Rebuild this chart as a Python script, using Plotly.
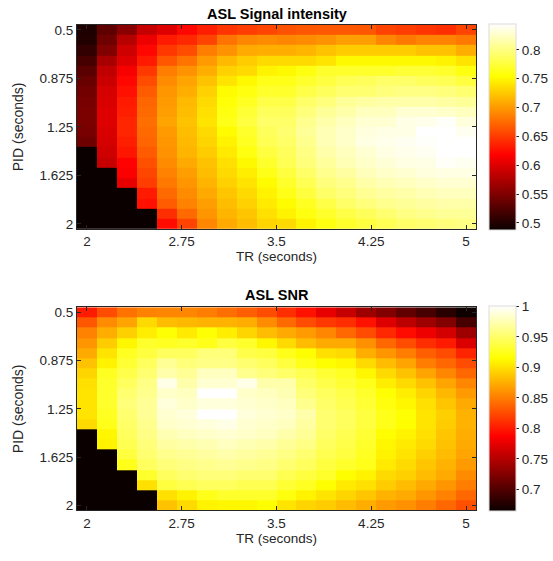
import plotly.graph_objects as go

# ---- data ----
tr_seconds = [2.000, 2.158, 2.316, 2.474, 2.632, 2.789, 2.947, 3.105, 3.263, 3.421,
              3.579, 3.737, 3.895, 4.053, 4.211, 4.368, 4.526, 4.684, 4.842, 5.000]
pid_seconds = [0.500, 0.579, 0.658, 0.737, 0.816, 0.895, 0.974, 1.053, 1.132, 1.211,
               1.289, 1.368, 1.447, 1.526, 1.605, 1.684, 1.763, 1.842, 1.921, 2.000]

x_tick_vals = [2, 2.75, 3.5, 4.25, 5]
x_tick_text = ["2", "2.75", "3.5", "4.25", "5"]
y_tick_vals = [0.5, 0.875, 1.25, 1.625, 2]
y_tick_text = ["0.5", "0.875", "1.25", "1.625", "2"]

sig_cbar_vals = [0.5, 0.55, 0.6, 0.65, 0.7, 0.75, 0.8]
sig_cbar_text = ["0.5", "0.55", "0.6", "0.65", "0.7", "0.75", "0.8"]
snr_cbar_vals = [0.7, 0.75, 0.8, 0.85, 0.9, 0.95, 1.0]
snr_cbar_text = ["0.7", "0.75", "0.8", "0.85", "0.9", "0.95", "1"]

sig_range = [0.488, 0.845]
snr_range = [0.664, 1.0]

# rows: PID (0.5 -> 2), columns: TR (2 -> 5); 0 = invalid combination
sig_intensity = [
    [0.499,0.533,0.556,0.588,0.601,0.622,0.635,0.646,0.651,0.656,0.662,0.664,0.665,0.665,0.664,0.654,0.651,0.646,0.643,0.654],
    [0.501,0.541,0.580,0.609,0.632,0.640,0.654,0.680,0.690,0.693,0.690,0.693,0.696,0.703,0.703,0.690,0.682,0.688,0.688,0.682],
    [0.509,0.551,0.593,0.622,0.648,0.659,0.685,0.696,0.709,0.711,0.711,0.714,0.722,0.727,0.727,0.727,0.727,0.722,0.722,0.711],
    [0.520,0.572,0.601,0.632,0.664,0.680,0.701,0.717,0.727,0.735,0.735,0.735,0.740,0.751,0.751,0.751,0.751,0.751,0.748,0.740],
    [0.530,0.585,0.614,0.648,0.685,0.696,0.711,0.730,0.735,0.748,0.751,0.760,0.770,0.770,0.770,0.770,0.773,0.773,0.770,0.760],
    [0.538,0.590,0.622,0.659,0.693,0.706,0.722,0.740,0.751,0.763,0.763,0.770,0.777,0.784,0.787,0.791,0.791,0.787,0.784,0.777],
    [0.543,0.596,0.627,0.667,0.698,0.711,0.730,0.753,0.760,0.770,0.770,0.780,0.787,0.794,0.794,0.798,0.801,0.801,0.798,0.794],
    [0.546,0.598,0.632,0.672,0.701,0.717,0.735,0.756,0.766,0.780,0.780,0.791,0.798,0.808,0.812,0.815,0.815,0.815,0.812,0.808],
    [0.548,0.601,0.635,0.675,0.703,0.719,0.738,0.760,0.773,0.787,0.787,0.798,0.808,0.815,0.822,0.822,0.829,0.829,0.826,0.822],
    [0.548,0.601,0.638,0.677,0.706,0.722,0.740,0.763,0.777,0.791,0.791,0.805,0.815,0.822,0.829,0.829,0.836,0.838,0.843,0.833],
    [0.546,0.598,0.638,0.675,0.701,0.719,0.735,0.753,0.770,0.787,0.794,0.808,0.819,0.826,0.833,0.836,0.836,0.845,0.845,0.840],
    [0.541,0.596,0.635,0.672,0.698,0.717,0.732,0.748,0.766,0.784,0.791,0.805,0.819,0.826,0.835,0.838,0.840,0.843,0.845,0.845],
    [0,    0.593,0.630,0.667,0.696,0.714,0.727,0.743,0.760,0.777,0.787,0.801,0.815,0.822,0.829,0.835,0.838,0.840,0.845,0.845],
    [0,    0.588,0.619,0.661,0.693,0.709,0.722,0.738,0.751,0.770,0.784,0.798,0.810,0.819,0.826,0.831,0.835,0.836,0.842,0.840],
    [0,    0,    0.617,0.656,0.688,0.703,0.719,0.735,0.745,0.763,0.777,0.791,0.805,0.812,0.821,0.826,0.829,0.833,0.835,0.835],
    [0,    0,    0.606,0.651,0.682,0.698,0.714,0.730,0.740,0.753,0.770,0.784,0.798,0.805,0.814,0.819,0.822,0.826,0.829,0.829],
    [0,    0,    0,    0.632,0.675,0.693,0.709,0.724,0.735,0.748,0.763,0.777,0.791,0.798,0.807,0.812,0.815,0.819,0.822,0.822],
    [0,    0,    0,    0.627,0.667,0.688,0.703,0.719,0.730,0.743,0.753,0.766,0.780,0.791,0.798,0.805,0.808,0.812,0.815,0.815],
    [0,    0,    0,    0,    0.643,0.675,0.698,0.714,0.724,0.738,0.748,0.760,0.770,0.780,0.787,0.794,0.801,0.805,0.808,0.808],
    [0,    0,    0,    0,    0.624,0.654,0.690,0.709,0.719,0.732,0.735,0.748,0.760,0.770,0.777,0.784,0.791,0.794,0.798,0.801],
]

snr = [
    [0.800,0.825,0.844,0.852,0.854,0.854,0.849,0.842,0.834,0.825,0.810,0.795,0.775,0.758,0.738,0.723,0.708,0.694,0.679,0.666],
    [0.830,0.857,0.869,0.896,0.881,0.879,0.876,0.876,0.874,0.857,0.840,0.825,0.815,0.810,0.795,0.770,0.753,0.738,0.723,0.694],
    [0.852,0.874,0.891,0.906,0.916,0.904,0.916,0.906,0.894,0.881,0.872,0.864,0.854,0.839,0.825,0.807,0.792,0.778,0.765,0.738],
    [0.862,0.889,0.911,0.929,0.926,0.929,0.923,0.936,0.929,0.911,0.896,0.881,0.872,0.872,0.859,0.839,0.825,0.810,0.800,0.768],
    [0.872,0.901,0.926,0.936,0.946,0.946,0.955,0.955,0.939,0.936,0.923,0.914,0.899,0.896,0.874,0.862,0.849,0.834,0.825,0.805],
    [0.884,0.909,0.932,0.946,0.965,0.955,0.959,0.959,0.952,0.946,0.936,0.923,0.914,0.911,0.896,0.881,0.869,0.849,0.839,0.825],
    [0.894,0.926,0.939,0.952,0.972,0.965,0.979,0.979,0.962,0.955,0.949,0.942,0.932,0.926,0.911,0.896,0.884,0.869,0.854,0.839],
    [0.899,0.929,0.946,0.959,0.992,0.972,0.985,0.985,0.992,0.972,0.972,0.949,0.939,0.932,0.923,0.906,0.896,0.884,0.869,0.854],
    [0.901,0.929,0.952,0.962,0.982,0.979,1.000,1.000,0.982,0.979,0.975,0.955,0.946,0.939,0.929,0.916,0.906,0.894,0.879,0.864],
    [0.901,0.929,0.955,0.965,0.988,0.982,0.988,0.988,0.985,0.982,0.979,0.962,0.949,0.942,0.932,0.919,0.911,0.899,0.886,0.872],
    [0.901,0.926,0.952,0.965,0.985,0.988,1.000,1.000,0.988,0.985,0.982,0.972,0.952,0.946,0.936,0.923,0.916,0.901,0.891,0.876],
    [0.896,0.923,0.949,0.962,0.982,0.985,0.988,0.992,0.985,0.982,0.979,0.969,0.952,0.946,0.936,0.923,0.914,0.901,0.889,0.876],
    [0,    0.911,0.946,0.959,0.975,0.979,0.982,0.985,0.982,0.979,0.972,0.965,0.949,0.942,0.932,0.914,0.909,0.899,0.886,0.874],
    [0,    0.909,0.942,0.955,0.969,0.972,0.975,0.979,0.975,0.972,0.965,0.959,0.946,0.939,0.929,0.911,0.904,0.896,0.884,0.872],
    [0,    0,    0.936,0.952,0.962,0.965,0.969,0.972,0.969,0.965,0.959,0.952,0.942,0.936,0.926,0.909,0.901,0.891,0.881,0.869],
    [0,    0,    0.923,0.946,0.955,0.959,0.962,0.965,0.962,0.959,0.952,0.946,0.936,0.929,0.923,0.904,0.896,0.886,0.876,0.864],
    [0,    0,    0,    0.929,0.946,0.952,0.955,0.955,0.952,0.952,0.942,0.936,0.929,0.914,0.909,0.896,0.891,0.881,0.872,0.857],
    [0,    0,    0,    0.899,0.936,0.942,0.946,0.946,0.942,0.942,0.932,0.926,0.914,0.904,0.899,0.889,0.881,0.872,0.862,0.849],
    [0,    0,    0,    0,    0.899,0.909,0.923,0.929,0.929,0.929,0.919,0.909,0.901,0.894,0.886,0.876,0.872,0.862,0.852,0.839],
    [0,    0,    0,    0,    0.884,0.896,0.909,0.911,0.911,0.914,0.901,0.894,0.889,0.881,0.874,0.864,0.859,0.849,0.839,0.827],
]

# ---- MATLAB "hot" colormap (64 levels) ----
hot = []
for k in range(64):
    r = min(1.0, (k + 1) / 24)
    g = min(1.0, max(0.0, (k + 1 - 24) / 24))
    b = min(1.0, max(0.0, (k + 1 - 48) / 16))
    hot.append([k / 63, f"rgb({round(r*255)},{round(g*255)},{round(b*255)})"])

W, H = 553, 561
FONT = "Liberation Sans, Arial, Helvetica, sans-serif"
TXT = "#262626"

def px_x(p):
    return p / W

def px_y(p):
    return 1 - p / H

fig = go.Figure()

def cbar(ytop, ybot, vals, text):
    return dict(
        x=px_x(489), xanchor="left", xpad=0,
        y=px_y((ytop + ybot) / 2), yanchor="middle", ypad=0,
        len=ybot - ytop, lenmode="pixels",
        thickness=27, thicknessmode="pixels",
        outlinewidth=1, outlinecolor="#dcdcdc",
        ticks="outside", ticklen=3, tickcolor=TXT,
        tickvals=vals, ticktext=text,
        tickfont=dict(family=FONT, size=13.5, color=TXT),
    )

fig.add_trace(go.Heatmap(
    x=tr_seconds, y=pid_seconds, z=sig_intensity,
    zmin=sig_range[0], zmax=sig_range[1], colorscale=hot,
    colorbar=cbar(23, 229, sig_cbar_vals, sig_cbar_text),
    xaxis="x", yaxis="y", hoverinfo="skip",
))
fig.add_trace(go.Heatmap(
    x=tr_seconds, y=pid_seconds, z=snr,
    zmin=snr_range[0], zmax=snr_range[1], colorscale=hot,
    colorbar=cbar(308, 513, snr_cbar_vals, snr_cbar_text),
    xaxis="x2", yaxis="y2", hoverinfo="skip",
))

dx = (tr_seconds[1] - tr_seconds[0]) / 2
dy = (pid_seconds[1] - pid_seconds[0]) / 2

def xax(anchor):
    return dict(
        domain=[px_x(77), px_x(476)], anchor=anchor,
        range=[tr_seconds[0] - dx, tr_seconds[-1] + dx],
        tickvals=x_tick_vals, ticktext=x_tick_text,
        ticks="inside", ticklen=4, tickcolor=TXT,
        showline=True, linecolor=TXT, linewidth=1, mirror="ticks",
        showgrid=False, zeroline=False,
        tickfont=dict(family=FONT, size=13.5, color=TXT),
        title=dict(text="TR (seconds)", standoff=3,
                   font=dict(family=FONT, size=13.5, color=TXT)),
    )

def yax(anchor, top, bot):
    return dict(
        domain=[px_y(bot), px_y(top)], anchor=anchor,
        range=[pid_seconds[-1] + dy, pid_seconds[0] - dy],
        tickvals=y_tick_vals, ticktext=y_tick_text,
        ticks="inside", ticklen=4, tickcolor=TXT,
        showline=True, linecolor=TXT, linewidth=1, mirror="ticks",
        showgrid=False, zeroline=False,
        tickfont=dict(family=FONT, size=13.5, color=TXT),
        title=dict(text="PID (seconds)", standoff=12,
                   font=dict(family=FONT, size=14, color=TXT)),
    )

fig.update_layout(
    width=W, height=H,
    margin=dict(l=0, r=0, t=0, b=0),
    paper_bgcolor="white", plot_bgcolor="white",
    xaxis=xax("y"), yaxis=yax("x", 23, 229),
    xaxis2=xax("y2"), yaxis2=yax("x2", 308, 513),
    showlegend=False,
    annotations=[
        dict(text="<b>ASL Signal intensity</b>", x=px_x(276.5), y=px_y(12),
             xref="paper", yref="paper", showarrow=False, xanchor="center", yanchor="middle",
             font=dict(family=FONT, size=14.5, color="black")),
        dict(text="<b>ASL SNR</b>", x=px_x(276.5), y=px_y(296),
             xref="paper", yref="paper", showarrow=False, xanchor="center", yanchor="middle",
             font=dict(family=FONT, size=14.5, color="black")),
    ],
    shapes=[
        dict(type="line", xref="paper", yref="paper", x0=px_x(489), x1=px_x(516),
             y0=px_y(23), y1=px_y(23), line=dict(color=TXT, width=1.5)),
        dict(type="line", xref="paper", yref="paper", x0=px_x(489), x1=px_x(516),
             y0=px_y(308), y1=px_y(308), line=dict(color=TXT, width=1.5)),
    ],
)

fig.write_html("out.html")
